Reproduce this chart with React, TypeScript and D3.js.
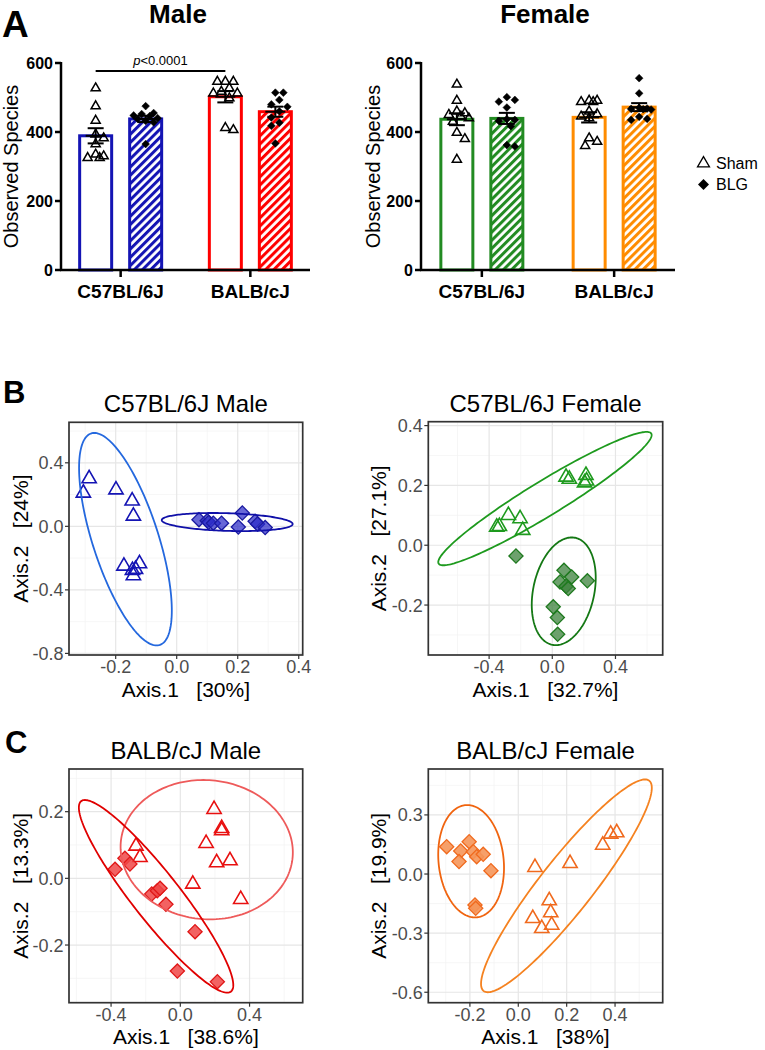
import React from 'react';
import * as d3 from 'd3';

const FONT = "'Liberation Sans', Arial, Helvetica, sans-serif";

// --------------------------------------------------------
// panel A : observed species per mouse
// --------------------------------------------------------
const strains = ['C57BL/6J', 'BALB/cJ'];
const groups = ['Sham', 'BLG'];
const yTicksA = [0, 200, 400, 600];

const maleC57Sham = [527, 475, 433, 393, 382, 365, 335, 330, 325, 325];
const maleC57Blg = [475, 455, 452, 448, 446, 440, 438, 432, 428, 365];
const maleBalbSham = [546, 546, 546, 527, 517, 512, 512, 498, 412, 406];
const maleBalbBlg = [514, 514, 493, 480, 473, 460, 442, 427, 418, 367];
const femaleC57Sham = [538, 491, 460, 455, 450, 445, 440, 430, 398, 380, 320];
const femaleC57Blg = [501, 493, 488, 471, 437, 435, 432, 417, 362, 358];
const femaleBalbSham = [491, 491, 487, 487, 460, 452, 445, 440, 382, 372, 360];
const femaleBalbBlg = [556, 512, 470, 468, 467, 466, 465, 444, 438, 435];

const pValueLabel = '<0.0001';

// --------------------------------------------------------
// panels B / C : PCoA coordinates [Axis.1, Axis.2]
// --------------------------------------------------------
const c57MaleSham = [[-0.287, 0.30], [-0.306, 0.21], [-0.199, 0.23], [-0.146, 0.16], [-0.142, 0.065],
  [-0.173, -0.25], [-0.122, -0.235], [-0.145, -0.277], [-0.142, -0.31], [-0.135, -0.27]];
const c57MaleBlg = [[0.073, 0.042], [0.10, 0.035], [0.105, 0.025], [0.12, 0.02], [0.147, 0.02],
  [0.215, 0.084], [0.202, -0.004], [0.257, 0.032], [0.265, 0.015], [0.29, -0.008]];
const c57FemaleSham = [[-0.352, 0.061], [-0.335, 0.063], [-0.278, 0.100], [-0.204, 0.089], [-0.187, 0.050],
  [0.087, 0.228], [0.108, 0.221], [0.213, 0.234], [0.217, 0.215], [0.204, 0.209]];
const c57FemaleBlg = [[-0.230, -0.036], [0.074, -0.084], [0.123, -0.106], [0.049, -0.123], [0.087, -0.137],
  [0.101, -0.145], [0.222, -0.119], [0.006, -0.206], [0.032, -0.242], [0.034, -0.298]];
const balbMaleSham = [[0.195, 0.207], [0.239, 0.150], [0.239, 0.143], [0.149, 0.105], [0.210, 0.047],
  [0.287, 0.053], [0.349, -0.063], [0.072, -0.017], [-0.256, 0.097], [-0.233, 0.063]];
const balbMaleBlg = [[-0.377, 0.027], [-0.320, 0.060], [-0.291, 0.043], [-0.165, -0.047], [-0.133, -0.037],
  [-0.117, -0.030], [-0.083, -0.078], [0.085, -0.160], [-0.017, -0.278], [0.214, -0.310]];
const balbFemaleSham = [[0.069, 0.034], [0.214, 0.054], [0.349, 0.147], [0.382, 0.203], [0.407, 0.210],
  [0.128, -0.135], [0.134, -0.196], [0.060, -0.225], [0.097, -0.276], [0.138, -0.259]];
const balbFemaleBlg = [[-0.296, 0.139], [-0.238, 0.117], [-0.203, 0.164], [-0.186, 0.113], [-0.172, 0.088],
  [-0.145, 0.100], [-0.245, 0.063], [-0.113, 0.017], [-0.179, -0.157], [-0.176, -0.174]];

// ellipses: [xMin, xMax, yMin, yMax, x at the top point]
const c57MaleShamEll = [-0.320, -0.016, -0.750, 0.588, -0.270];
const c57MaleBlgEll = [-0.049, 0.380, -0.030, 0.084, 0.119];
const c57FemaleShamEll = [-0.722, 0.629, -0.067, 0.379, 0.597];
const c57FemaleBlgEll = [-0.130, 0.275, -0.334, 0.026, 0.123];
const balbMaleShamEll = [-0.345, 0.650, -0.123, 0.295, 0.133];
const balbMaleBlgEll = [-0.586, 0.306, -0.343, 0.235, -0.551];
const balbFemaleShamEll = [-0.154, 0.552, -0.600, 0.480, 0.524];
const balbFemaleBlgEll = [-0.331, -0.059, -0.220, 0.350, -0.211];

const colors = {
  blue: { bar: '#1414B4', shamEll: '#2468DE', blgEll: '#1010A8', tri: '#1414B4', fill: 'rgba(45,45,200,0.72)', dStroke: '#1A1AA0' },
  green: { bar: '#228B22', shamEll: '#1E9A1E', blgEll: '#147814', tri: '#1E9A1E', fill: 'rgba(60,130,60,0.75)', dStroke: '#1F7A1F' },
  red: { bar: '#FF0000', shamEll: '#EE5A5A', blgEll: '#E00000', tri: '#E81010', fill: 'rgba(240,70,70,0.85)', dStroke: '#E01818' },
  orange: { bar: '#FF8C00', shamEll: '#F58220', blgEll: '#F0640F', tri: '#F06A1E', fill: 'rgba(245,150,90,0.9)', dStroke: '#F06A1E' },
};

const fmt1 = (v) => d3.format('.1f')(v).replace('\u2212', '-');

// simple deterministic swarm so overlapping dots spread sideways (kept inside the bar)
function swarm(values, y, r, maxOff) {
  const order = d3.range(values.length).sort((a, b) => d3.descending(values[a], values[b]));
  const placed = [];
  const out = new Array(values.length).fill(0);
  for (const i of order) {
    const py = y(values[i]);
    let best = null;
    let bestOverlap = Infinity;
    for (let k = 0; k < 20; k++) {
      const cand = k === 0 ? 0 : (k % 2 ? 1 : -1) * Math.ceil(k / 2) * r * 0.5;
      if (Math.abs(cand) > maxOff) continue;
      const near = d3.min(placed, p => Math.hypot(p.x - cand, p.y - py)) ?? Infinity;
      if (near >= r) { best = cand; break; }
      if (-near < bestOverlap) { bestOverlap = -near; best = cand; }
    }
    placed.push({ x: best, y: py });
    out[i] = best;
  }
  return out;
}

const triSmall = d3.symbol(d3.symbolTriangle, 36)();
const diaSmall = d3.symbol(d3.symbolSquare, 30)();

function BarPanel({ title, titleX, axisX, axisEnd, series, barColors, labelX, pBracket }) {
  const y = d3.scaleLinear().domain([0, 600]).range([270, 63]);
  const xg = d3.scalePoint().domain(strains).range([axisX, axisEnd]).padding(0.46);
  const xb = d3.scaleBand().domain(groups).range([-41, 41]).paddingInner(0.36);
  const bw = xb.bandwidth();

  return (
    <g>
      <text x={titleX} y={23} textAnchor="middle" fontSize={26} fontWeight="bold">{title}</text>
      {series.map((pair, si) => pair.map((vals, gi) => {
        const m = d3.mean(vals);
        const sem = d3.deviation(vals) / Math.sqrt(vals.length);
        const cx = xg(strains[si]) + xb(groups[gi]) + bw / 2;
        const col = barColors[si];
        const offs = swarm(vals, y, 8, 14);
        return (
          <g key={si + '-' + gi}>
            <rect x={cx - bw / 2} y={y(m)} width={bw} height={270 - y(m)}
              fill={gi === 0 ? '#fff' : `url(#hatch-${si}-${title})`} stroke={col} strokeWidth={3} />
            {vals.map((v, i) => (
              <path key={i} d={gi === 0 ? triSmall : diaSmall}
                transform={`translate(${cx + offs[i]},${y(v)})${gi === 1 ? ' rotate(45)' : ''}`}
                fill={gi === 0 ? 'none' : '#000'} stroke="#000" strokeWidth={gi === 0 ? 1.5 : 0.5} />
            ))}
            <line x1={cx} x2={cx} y1={y(m - sem)} y2={y(m + sem)} stroke="#000" strokeWidth={2} />
            <line x1={cx - 8} x2={cx + 8} y1={y(m - sem)} y2={y(m - sem)} stroke="#000" strokeWidth={2} />
            <line x1={cx - 8} x2={cx + 8} y1={y(m + sem)} y2={y(m + sem)} stroke="#000" strokeWidth={2} />
            <line x1={cx - 10} x2={cx + 10} y1={y(m)} y2={y(m)} stroke="#000" strokeWidth={2} />
          </g>
        );
      }))}
      <defs>
        {barColors.map((c, si) => (
          <pattern key={si} id={`hatch-${si}-${title}`} patternUnits="userSpaceOnUse" width={5.8} height={5.8}
            patternTransform="rotate(45)">
            <rect width={5.8} height={5.8} fill="#fff" />
            <line x1={1.5} x2={1.5} y1={0} y2={5.8} stroke={c} strokeWidth={3} />
          </pattern>
        ))}
      </defs>
      {/* axes */}
      <line x1={axisX} x2={axisX} y1={62} y2={271} stroke="#000" strokeWidth={2.5} />
      <line x1={axisX - 1} x2={axisEnd} y1={270} y2={270} stroke="#000" strokeWidth={2.5} />
      {yTicksA.map(t => (
        <g key={t}>
          <line x1={axisX - 6} x2={axisX} y1={y(t)} y2={y(t)} stroke="#000" strokeWidth={2.5} />
          <text x={axisX - 8} y={y(t)} dy="0.36em" textAnchor="end" fontSize={16} fontWeight="bold">{t}</text>
        </g>
      ))}
      {strains.map(s => (
        <g key={s}>
          <line x1={xg(s)} x2={xg(s)} y1={270} y2={277} stroke="#000" strokeWidth={2.5} />
          <text x={xg(s)} y={298} textAnchor="middle" fontSize={19} fontWeight="bold">{s}</text>
        </g>
      ))}
      <text transform={`translate(${labelX},${y(300)}) rotate(-90)`} textAnchor="middle" fontSize={20}>Observed Species</text>
      {pBracket && (() => {
        const xa = xg(strains[0]) + xb('Sham') + bw / 2;
        const xc = xg(strains[1]) + xb('Sham') + bw / 2;
        return (
          <g>
            <line x1={xa} x2={xc} y1={71} y2={71} stroke="#000" strokeWidth={2} />
            <text x={(xa + xc) / 2} y={65} textAnchor="middle" fontSize={13}>
              <tspan fontStyle="italic">p</tspan>{pValueLabel}
            </text>
          </g>
        );
      })()}
    </g>
  );
}

function ellipsePath(e, x, y) {
  const [x0, x1, y0, y1, xt] = e;
  const px0 = x(x0), px1 = x(x1), pyT = y(y1), pyB = y(y0), ptx = x(xt);
  const cx = (px0 + px1) / 2, cy = (pyT + pyB) / 2;
  const hw = (px1 - px0) / 2, hh = (pyB - pyT) / 2;
  const dx = ptx - cx;
  const w = Math.sqrt(Math.max(0, hw * hw - dx * dx));
  const pts = d3.range(0, 2 * Math.PI, Math.PI / 90)
    .map(t => [cx + dx * Math.cos(t) + w * Math.sin(t), cy - hh * Math.cos(t)]);
  return d3.line().curve(d3.curveLinearClosed)(pts);
}

const triBig = d3.symbol(d3.symbolTriangle, 88)();
const diaBig = d3.symbol(d3.symbolSquare, 100)();

function PcoaPanel({ box, xDomain, yDomain, xTicks, xMinor, yTicks, yMinor, title, xLabel, yLabel, yLabelX,
  sham, blg, shamEll, blgEll, col }) {
  const [l, r, t, b] = box;
  const x = d3.scaleLinear().domain(xDomain).range([l, r]);
  const y = d3.scaleLinear().domain(yDomain).range([b, t]);
  const cid = 'clip-' + title.replace(/[^a-z0-9]/gi, '');
  return (
    <g>
      <defs>
        <clipPath id={cid}><rect x={l} y={t} width={r - l} height={b - t} /></clipPath>
      </defs>
      <rect x={l} y={t} width={r - l} height={b - t} fill="#fff" />
      {xMinor.map(v => <line key={'xm' + v} x1={x(v)} x2={x(v)} y1={t} y2={b} stroke="#F2F2F2" strokeWidth={0.7} />)}
      {yMinor.map(v => <line key={'ym' + v} x1={l} x2={r} y1={y(v)} y2={y(v)} stroke="#F2F2F2" strokeWidth={0.7} />)}
      {xTicks.map(v => <line key={'xg' + v} x1={x(v)} x2={x(v)} y1={t} y2={b} stroke="#E6E6E6" strokeWidth={1.2} />)}
      {yTicks.map(v => <line key={'yg' + v} x1={l} x2={r} y1={y(v)} y2={y(v)} stroke="#E6E6E6" strokeWidth={1.2} />)}
      <g clipPath={`url(#${cid})`}>
        {sham.map((p, i) => (
          <path key={'s' + i} d={triBig} transform={`translate(${x(p[0])},${y(p[1])})`}
            fill="none" stroke={col.tri} strokeWidth={1.6} />
        ))}
        {blg.map((p, i) => (
          <path key={'b' + i} d={diaBig} transform={`translate(${x(p[0])},${y(p[1])}) rotate(45)`}
            fill={col.fill} stroke={col.dStroke} strokeWidth={1.3} />
        ))}
        <path d={ellipsePath(shamEll, x, y)} fill="none" stroke={col.shamEll} strokeWidth={1.8} />
        <path d={ellipsePath(blgEll, x, y)} fill="none" stroke={col.blgEll} strokeWidth={1.8} />
      </g>
      <rect x={l} y={t} width={r - l} height={b - t} fill="none" stroke="#333" strokeWidth={1.7} />
      {xTicks.map(v => (
        <g key={'xt' + v}>
          <line x1={x(v)} x2={x(v)} y1={b} y2={b + 4} stroke="#333" strokeWidth={1.2} />
          <text x={x(v)} y={b + 18} textAnchor="middle" fontSize={18} fill="#4D4D4D">{fmt1(v)}</text>
        </g>
      ))}
      {yTicks.map(v => (
        <g key={'yt' + v}>
          <line x1={l - 4} x2={l} y1={y(v)} y2={y(v)} stroke="#333" strokeWidth={1.2} />
          <text x={l - 5.5} y={y(v)} dy="0.36em" textAnchor="end" fontSize={18} fill="#4D4D4D">{fmt1(v)}</text>
        </g>
      ))}
      <text x={(l + r) / 2} y={t - 10} textAnchor="middle" fontSize={24}>{title}</text>
      <text x={(l + r) / 2} y={b + 41.5} textAnchor="middle" fontSize={21} style={{ whiteSpace: 'pre' }}>{xLabel}</text>
      <text transform={`translate(${yLabelX},${(t + b) / 2}) rotate(-90)`} textAnchor="middle" fontSize={21}
        style={{ whiteSpace: 'pre' }}>{yLabel}</text>
    </g>
  );
}

export default function App() {
  const triLeg = d3.symbol(d3.symbolTriangle, 62)();
  const diaLeg = d3.symbol(d3.symbolSquare, 60)();
  return (
    <svg width={765} height={1050} style={{ position: 'absolute', left: 0, top: 0, background: '#fff' }}
      fontFamily={FONT}>
      <rect width={765} height={1050} fill="#fff" />
      <text x={2} y={37} fontSize={37} fontWeight="bold">A</text>
      <text x={3} y={403} fontSize={31} fontWeight="bold">B</text>
      <text x={5} y={753} fontSize={31} fontWeight="bold">C</text>

      <BarPanel title="Male" titleX={178} axisX={61} axisEnd={310} labelX={18}
        series={[[maleC57Sham, maleC57Blg], [maleBalbSham, maleBalbBlg]]}
        barColors={[colors.blue.bar, colors.red.bar]} pBracket />
      <BarPanel title="Female" titleX={545} axisX={421} axisEnd={675} labelX={380}
        series={[[femaleC57Sham, femaleC57Blg], [femaleBalbSham, femaleBalbBlg]]}
        barColors={[colors.green.bar, colors.orange.bar]} />

      {/* legend */}
      <path d={triLeg} transform="translate(703.5,163.5)" fill="none" stroke="#000" strokeWidth={1.3} />
      <text x={716} y={169} fontSize={16}>Sham</text>
      <path d={diaLeg} transform="translate(703.5,184.5) rotate(45)" fill="#000" />
      <text x={716} y={190} fontSize={16}>BLG</text>

      <PcoaPanel box={[69, 302.7, 422.3, 655]} xDomain={[-0.353, 0.413]} yDomain={[-0.81, 0.655]}
        xTicks={[-0.2, 0, 0.2, 0.4]} xMinor={[-0.3, -0.1, 0.1, 0.3]}
        yTicks={[-0.8, -0.4, 0, 0.4]} yMinor={[-0.6, -0.2, 0.2, 0.6]}
        title="C57BL/6J Male" xLabel="Axis.1   [30%]" yLabel="Axis.2   [24%]" yLabelX={28}
        sham={c57MaleSham} blg={c57MaleBlg} shamEll={c57MaleShamEll} blgEll={c57MaleBlgEll} col={colors.blue} />
      <PcoaPanel box={[428.3, 662.7, 421.7, 655]} xDomain={[-0.785, 0.699]} yDomain={[-0.367, 0.413]}
        xTicks={[-0.4, 0, 0.4]} xMinor={[-0.6, -0.2, 0.2, 0.6]}
        yTicks={[-0.2, 0, 0.2, 0.4]} yMinor={[-0.3, -0.1, 0.1, 0.3]}
        title="C57BL/6J Female" xLabel="Axis.1   [32.7%]" yLabel="Axis.2   [27.1%]" yLabelX={386}
        sham={c57FemaleSham} blg={c57FemaleBlg} shamEll={c57FemaleShamEll} blgEll={c57FemaleBlgEll} col={colors.green} />
      <PcoaPanel box={[69, 302.7, 769, 1002.7]} xDomain={[-0.643, 0.707]} yDomain={[-0.373, 0.328]}
        xTicks={[-0.4, 0, 0.4]} xMinor={[-0.6, -0.2, 0.2, 0.6]}
        yTicks={[-0.2, 0, 0.2]} yMinor={[-0.3, -0.1, 0.1, 0.3]}
        title="BALB/cJ Male" xLabel="Axis.1   [38.6%]" yLabel="Axis.2   [13.3%]" yLabelX={28}
        sham={balbMaleSham} blg={balbMaleBlg} shamEll={balbMaleShamEll} blgEll={balbMaleBlgEll} col={colors.red} />
      <PcoaPanel box={[428.3, 662.7, 769, 1002.7]} xDomain={[-0.372, 0.597]} yDomain={[-0.653, 0.533]}
        xTicks={[-0.2, 0, 0.2, 0.4]} xMinor={[-0.3, -0.1, 0.1, 0.3, 0.5]}
        yTicks={[-0.6, -0.3, 0, 0.3]} yMinor={[-0.45, -0.15, 0.15, 0.45]}
        title="BALB/cJ Female" xLabel="Axis.1   [38%]" yLabel="Axis.2   [19.9%]" yLabelX={386}
        sham={balbFemaleSham} blg={balbFemaleBlg} shamEll={balbFemaleShamEll} blgEll={balbFemaleBlgEll} col={colors.orange} />
    </svg>
  );
}
